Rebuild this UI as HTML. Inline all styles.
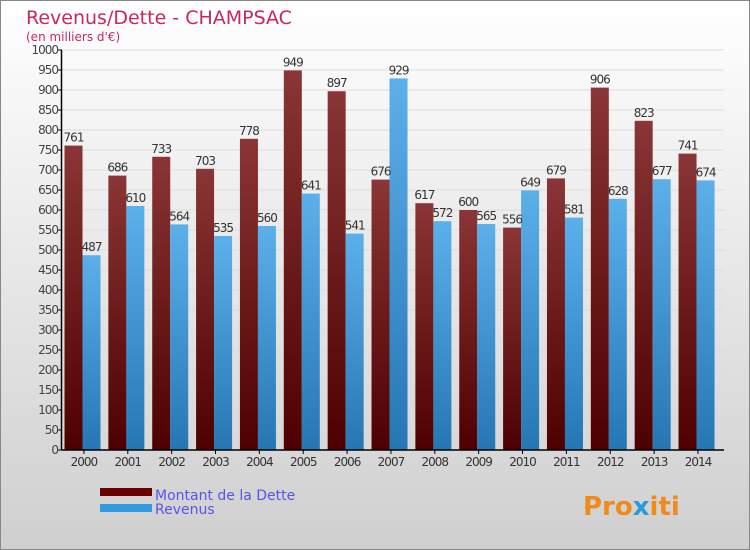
<!DOCTYPE html>
<html><head><meta charset="utf-8"><style>
body{margin:0;width:750px;height:550px;overflow:hidden;font-family:"DejaVu Sans","Liberation Sans",sans-serif}
svg{display:block}
</style></head><body>
<svg id="c" width="750" height="550">
<defs>
<linearGradient id="bg" x1="0" y1="0" x2="0" y2="1"><stop offset="0" stop-color="#ffffff"/><stop offset="1" stop-color="#cfcfcf"/></linearGradient>
<linearGradient id="gd" x1="0" y1="0" x2="0" y2="1"><stop offset="0" stop-color="#8a3536"/><stop offset="1" stop-color="#4e0000"/></linearGradient>
<linearGradient id="gr" x1="0" y1="0" x2="0" y2="1"><stop offset="0" stop-color="#5cb0ea"/><stop offset="1" stop-color="#2676b4"/></linearGradient>
</defs>
<rect x="0.5" y="0.5" width="749" height="549" fill="url(#bg)" stroke="#888"/>
<text x="26" y="24" font-size="19" fill="#c8285a">Revenus/Dette - CHAMPSAC</text>
<text x="26" y="41" font-size="12" fill="#c8285a">(en milliers d'€)</text>
<g id="grid"></g><g id="bars"></g><g id="axes"></g>
<rect x="100" y="488" width="52" height="8" fill="#6a0000"/>
<rect x="100" y="504" width="52" height="8" fill="#3399e0"/>
<text x="155" y="500" font-size="14" fill="#5555ee">Montant de la Dette</text>
<text x="155" y="514" font-size="14" fill="#5555ee">Revenus</text>
<text x="583" y="515" font-size="26" font-weight="bold" fill="#f08a1c">Pro<tspan fill="#2a9ad8">x</tspan>iti</text>
</svg>
<script>
const years=["2000","2001","2002","2003","2004","2005","2006","2007","2008","2009","2010","2011","2012","2013","2014"];
const dette=[761,686,733,703,778,949,897,676,617,600,556,679,906,823,741];
const revenus=[487,610,564,535,560,641,541,929,572,565,649,581,628,677,674];
const yTicks=[0,50,100,150,200,250,300,350,400,450,500,550,600,650,700,750,800,850,900,950,1000];
const NS="http://www.w3.org/2000/svg";
const x0=62,step=43.86,bw=18,y0=450,ys=0.4;
const Y=v=>y0-v*ys;
const X=i=>x0+i*step;
function mk(t,a,p){const e=document.createElementNS(NS,t);for(const k in a)e.setAttribute(k,a[k]);p.appendChild(e);return e;}
const grid=document.getElementById('grid'),bars=document.getElementById('bars'),axes=document.getElementById('axes');
yTicks.forEach(v=>{
 const l=mk('line',{x1:x0,x2:724,y1:Y(v),y2:Y(v),stroke:'#dddddd','stroke-width':1},grid);
 
 
 const tk=mk('line',{x1:x0-4,x2:x0,y1:Y(v),y2:Y(v),stroke:'#000'},axes);
 
 
 const t=mk('text',{x:x0-4,y:Y(v)+4,'text-anchor':'end','font-size':12,fill:'#444','letter-spacing':'-1'},axes);
 t.textContent=v;
 
 
});
years.forEach((yr,i)=>{
 const xd=X(i)+2.5,xr=xd+bw;
 const b1=mk('rect',{x:xd,y:Y(dette[i]),width:bw,height:dette[i]*ys,fill:'url(#gd)'},bars);
 
 
 const b2=mk('rect',{x:xr,y:Y(revenus[i]),width:bw,height:revenus[i]*ys,fill:'url(#gr)'},bars);
 
 
 const t1=mk('text',{x:xd+bw/2,y:Y(dette[i])-4,'text-anchor':'middle','font-size':12,fill:'#333','letter-spacing':'-1'},bars);
 t1.textContent=dette[i];
 
 
 const t2=mk('text',{x:xr+bw/2,y:Y(revenus[i])-4,'text-anchor':'middle','font-size':12,fill:'#333','letter-spacing':'-1'},bars);
 t2.textContent=revenus[i];
 
 
 const tk=mk('line',{x1:X(i)+step/2,x2:X(i)+step/2,y1:y0,y2:y0+4,stroke:'#000'},axes);
 
 
 const xl=mk('text',{x:X(i)+step/2,y:466,'text-anchor':'middle','font-size':12,fill:'#333','letter-spacing':'-1'},axes);
 xl.textContent=yr;
 
 
});
const ya=mk('line',{x1:x0-0.5,x2:x0-0.5,y1:Y(1000),y2:y0,stroke:'#000','stroke-width':1.5},axes);


const xa=mk('line',{x1:x0-0.5,x2:724,y1:y0,y2:y0,stroke:'#000','stroke-width':1.5},axes);


</script>
</body></html>
